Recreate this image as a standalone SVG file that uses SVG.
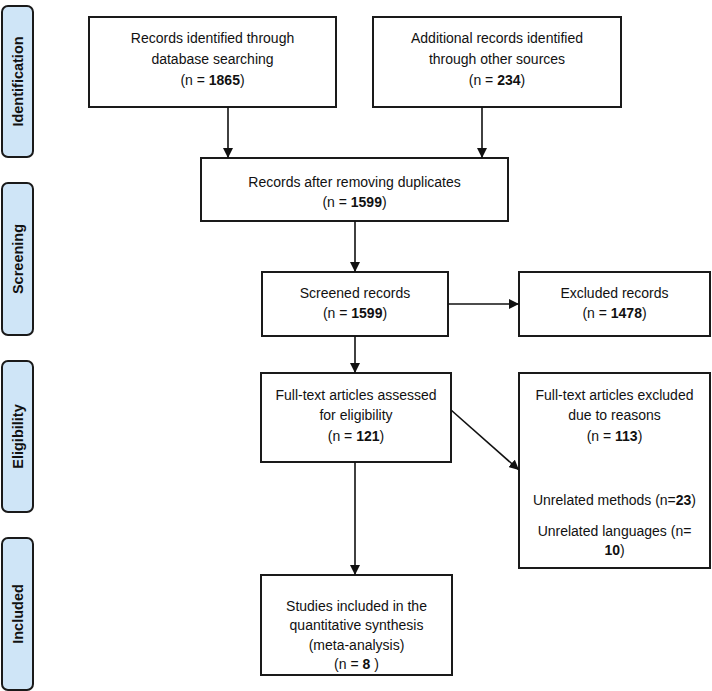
<svg xmlns="http://www.w3.org/2000/svg" width="712" height="691" viewBox="0 0 712 691">
<style>
.box{fill:#fff;stroke:#1a1a1a;stroke-width:2}
.side{fill:#cfe5f7;stroke:#1a1a1a;stroke-width:2}
.t{font-family:"Liberation Sans",Arial,sans-serif;font-size:14px;fill:#111;text-anchor:middle}
.s{font-family:"Liberation Sans",Arial,sans-serif;font-size:14.5px;font-weight:bold;fill:#111;text-anchor:middle}
.b{font-weight:bold}
.c{stroke:#111;stroke-width:1.6;fill:none;marker-end:url(#ah)}
</style>
<defs>
<marker id="ah" viewBox="0 0 10 10" refX="10" refY="5" markerWidth="10" markerHeight="10" markerUnits="userSpaceOnUse" orient="auto">
<path d="M0,0 L10,5 L0,10 z" fill="#111"/>
</marker>
</defs>
<g id="phase-identification"><rect class="side" x="2" y="6" width="31" height="151" rx="6"/><text class="s" transform="translate(23,81.5) rotate(-90)">Identification</text></g>
<g id="phase-screening"><rect class="side" x="2" y="183" width="31" height="152" rx="6"/><text class="s" transform="translate(23,259) rotate(-90)">Screening</text></g>
<g id="phase-eligibility"><rect class="side" x="2" y="361" width="31" height="151" rx="6"/><text class="s" transform="translate(23,436.5) rotate(-90)">Eligibility</text></g>
<g id="phase-included"><rect class="side" x="2" y="538" width="31" height="152" rx="6"/><text class="s" transform="translate(23,614) rotate(-90)">Included</text></g>

<g id="n-db"><rect class="box" x="89" y="17" width="247" height="90"/>
<text class="t" x="212.5" y="43">Records identified through</text>
<text class="t" x="212.5" y="64">database searching</text>
<text class="t" x="212.5" y="85">(n = <tspan class="b">1865</tspan>)</text></g>

<g id="n-other"><rect class="box" x="373" y="17" width="248" height="90"/>
<text class="t" x="497" y="43">Additional records identified</text>
<text class="t" x="497" y="64">through other sources</text>
<text class="t" x="497" y="85">(n = <tspan class="b">234</tspan>)</text></g>

<g id="n-dedup"><rect class="box" x="201" y="158" width="307" height="63"/>
<text class="t" x="354.5" y="187">Records after removing duplicates</text>
<text class="t" x="354.5" y="207">(n = <tspan class="b">1599</tspan>)</text></g>

<g id="n-screened"><rect class="box" x="262" y="272" width="186" height="64"/>
<text class="t" x="355" y="298">Screened records</text>
<text class="t" x="355" y="318">(n = <tspan class="b">1599</tspan>)</text></g>

<g id="n-excluded"><rect class="box" x="519" y="272" width="191" height="64"/>
<text class="t" x="614.5" y="298">Excluded records</text>
<text class="t" x="614.5" y="318">(n = <tspan class="b">1478</tspan>)</text></g>

<g id="n-fulltext"><rect class="box" x="261" y="373" width="190" height="89"/>
<text class="t" x="356" y="400">Full-text articles assessed</text>
<text class="t" x="356" y="420">for eligibility</text>
<text class="t" x="356" y="441">(n = <tspan class="b">121</tspan>)</text></g>

<g id="n-ftexcluded"><rect class="box" x="519" y="373" width="191" height="195"/>
<text class="t" x="614.5" y="400">Full-text articles excluded</text>
<text class="t" x="614.5" y="420">due to reasons</text>
<text class="t" x="614.5" y="441">(n =  <tspan class="b">113</tspan>)</text>
<text class="t" x="614.5" y="505">Unrelated methods (n=<tspan class="b">23</tspan>)</text>
<text class="t" x="614.5" y="536">Unrelated languages (n=</text>
<text class="t" x="614.5" y="555"><tspan class="b">10</tspan>)</text></g>

<g id="n-included"><rect class="box" x="261" y="575" width="191" height="100"/>
<text class="t" x="356.5" y="611">Studies included in the</text>
<text class="t" x="356.5" y="630">quantitative synthesis</text>
<text class="t" x="356.5" y="650">(meta-analysis)</text>
<text class="t" x="356.5" y="669">(n = <tspan class="b">8</tspan> )</text></g>

<g id="connectors">
<line class="c" x1="228" y1="107" x2="228" y2="158"/>
<line class="c" x1="482" y1="107" x2="482" y2="158"/>
<line class="c" x1="355" y1="221" x2="355" y2="272"/>
<line class="c" x1="448" y1="304" x2="519" y2="304"/>
<line class="c" x1="355" y1="336" x2="355" y2="373"/>
<line class="c" x1="451" y1="410" x2="519" y2="470"/>
<line class="c" x1="355" y1="462" x2="355" y2="575"/>
</g>
</svg>
